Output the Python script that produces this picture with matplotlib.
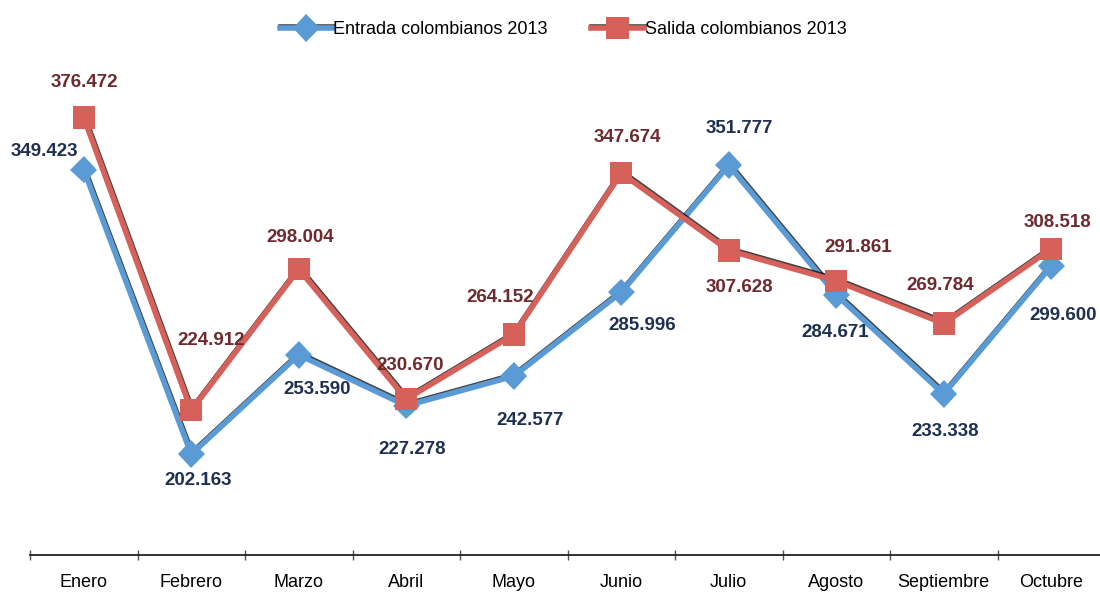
import matplotlib
matplotlib.use("Agg")
import matplotlib.pyplot as plt
import matplotlib.patheffects as pe
import numpy as np

plt.rcParams['font.family'] = ['Liberation Sans', 'DejaVu Sans']

meses = ["Enero", "Febrero", "Marzo", "Abril", "Mayo", "Junio",
         "Julio", "Agosto", "Septiembre", "Octubre"]
entrada = [349.423, 202.163, 253.590, 227.278, 242.577, 285.996,
           351.777, 284.671, 233.338, 299.600]
salida = [376.472, 224.912, 298.004, 230.670, 264.152, 347.674,
          307.628, 291.861, 269.784, 308.518]

# label offsets in pixels (dx, dy) from each point
off_entrada = [(-39, 18), (7, -26), (18, -35), (6, -44), (16, -44),
               (21, -33), (11, 37), (-1, -38), (1, -38), (12, -50)]
off_salida = [(1, 35), (20, 70), (1, 32), (4, 34), (-14, 37),
              (6, 36), (11, -37), (22, 33), (-4, 38), (6, 26)]

azul = '#5B9BD5'
rojo = '#D6605A'
txt_azul = '#1F3150'
txt_rojo = '#6E2A2E'

fig = plt.figure(figsize=(11, 5.95), dpi=100)
ax = fig.add_axes([30 / 1100, 40 / 595, 1075 / 1100, 483 / 595])

x = np.arange(len(meses))
sombra = [pe.SimpleLineShadow(offset=(0.4, 1.0), shadow_color='black', alpha=0.75),
          pe.Normal()]

l1, = ax.plot(x, entrada, color=azul, lw=4, marker='D', markersize=14,
              markeredgewidth=0, label='Entrada colombianos 2013',
              path_effects=sombra, zorder=3)
l2, = ax.plot(x, salida, color=rojo, lw=4, marker='s', markersize=16,
              markeredgewidth=0, label='Salida colombianos 2013',
              path_effects=sombra, zorder=4)

fmt = lambda v: f"{v:.3f}"
for xi, v, o in zip(x, entrada, off_entrada):
    ax.annotate(fmt(v), (xi, v), xytext=o, textcoords='offset pixels',
                ha='center', va='center', fontsize=13.5, fontweight='bold',
                color=txt_azul, zorder=5)
for xi, v, o in zip(x, salida, off_salida):
    ax.annotate(fmt(v), (xi, v), xytext=o, textcoords='offset pixels',
                ha='center', va='center', fontsize=13.5, fontweight='bold',
                color=txt_rojo, zorder=5)

ax.set_xlim(-0.5, len(meses) - 0.5)
ax.set_ylim(150, 400)
for s in ['top', 'right', 'left']:
    ax.spines[s].set_visible(False)
ax.spines['bottom'].set_linewidth(1.3)
ax.spines['bottom'].set_color('#222222')
ax.set_yticks([])
ax.set_xticks(x)
ax.set_xticklabels(meses, fontsize=13)
ax.tick_params(axis='x', which='major', length=0, pad=14)
ax.set_xticks(np.arange(-0.5, len(meses) + 0.5, 1), minor=True)
ax.tick_params(axis='x', which='minor', length=7, direction='inout',
               width=1, color='#555555')

fig.legend(handles=[l1, l2], loc='center', bbox_to_anchor=(0.512, 0.95),
           ncol=2, frameon=False, fontsize=13, handlelength=2.9,
           handletextpad=0.05, columnspacing=2.4)

fig.savefig('out.png', dpi=100)
